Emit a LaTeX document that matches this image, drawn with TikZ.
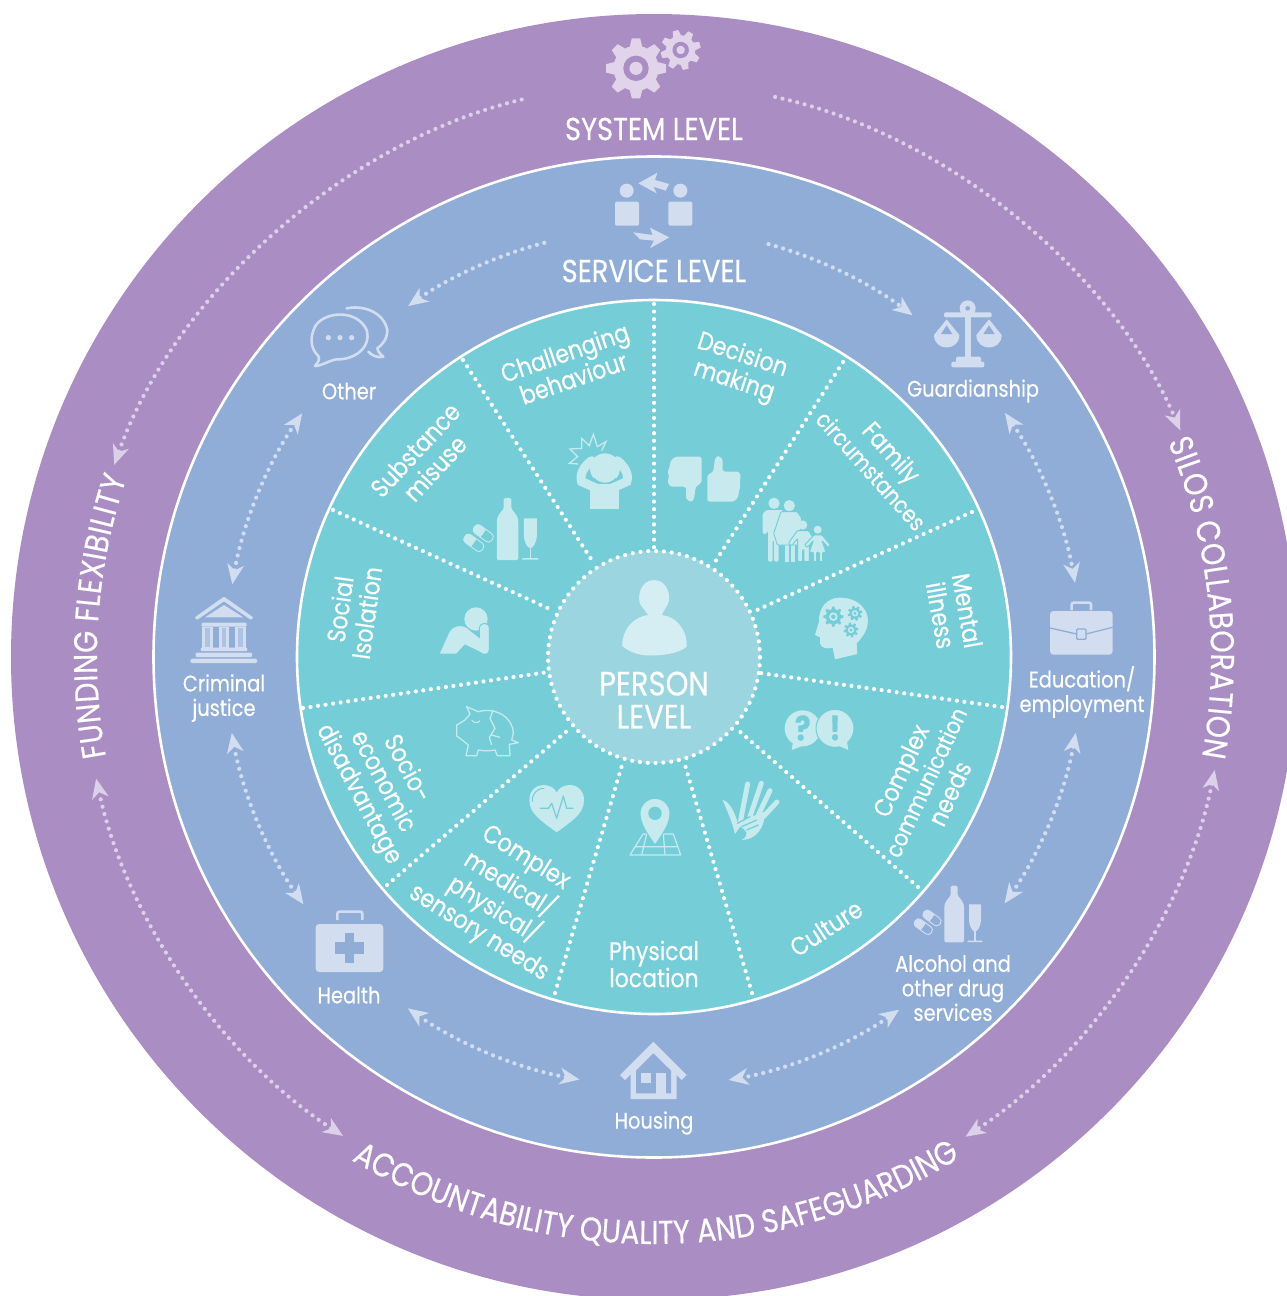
\documentclass[tikz,border=0pt]{standalone}
\usepackage{fontspec}
\usetikzlibrary{arrows.meta,decorations.text}
\newfontfamily\gothic[FakeStretch=0.86,FakeBold=0.4]{Poppins}
\definecolor{cpurple}{HTML}{A98DC3}
\definecolor{cblue}{HTML}{90ADD8}
\definecolor{cteal}{HTML}{75CDD8}
\definecolor{ccore}{HTML}{9BD6E0}
\definecolor{icoP}{HTML}{E0D3EA}
\definecolor{icoB}{HTML}{D2DDF0}
\definecolor{icoT}{HTML}{C6EAEE}
\definecolor{icoC}{HTML}{D5EEF3}
\definecolor{dotP}{HTML}{DDD0E9}
\tikzset{
 ring title/.style={font=\gothic\fontsize{31.8}{34}\selectfont,text=white,align=center,inner sep=0pt},
 core title/.style={font=\gothic\fontsize{33.8}{33}\selectfont,text=white,align=center,inner sep=0pt},
 blue label/.style={font=\gothic\fontsize{22.6}{24.5}\selectfont,text=white,align=center,inner sep=0pt},
 teal label/.style={font=\gothic\fontsize{25.6}{27}\selectfont,text=white,align=center,inner sep=0pt},
 mark glyph/.style={font=\gothic\bfseries\fontsize{34}{34}\selectfont,text=cteal,inner sep=0pt},
 spoke line/.style={draw=white,line width=4.2pt,line cap=round,dash pattern=on 0pt off 7.6pt},
 link/.style={line width=4.2pt,line cap=round,dash pattern=on 0pt off 7.6pt,
   >={Stealth[length=20pt,width=17pt,inset=6pt,round=false,line width=0pt]}},
 blue link/.style={link,draw=icoB,color=icoB},
 purple link/.style={link,draw=dotP,color=dotP},
 zoomed/.style={scale=0.33333},
}
\newcommand\curvefont{\gothic\fontsize{33}{34}\selectfont\color{white}}
\newcommand\longword[1]{{\fontsize{23.5}{27}\selectfont #1}}
\newcommand\spokeline[5]{\coordinate (#1a) at (#2,#3); \coordinate (#1b) at (#4,#5); \draw[spoke line] (#1a) -- (#1b);}
% all rings run clockwise from angle #2 to angle #3, radius #4
\newcommand\ringlink[5]{\coordinate (#1a) at ([shift={(O)}]#2:#4pt); \coordinate (#1b) at ([shift={(O)}]#3:#4pt);
 \pgfmathsetmacro\bnd{abs(#3-(#2))/2}
 \draw[#5] (#1a) to[bend left=\bnd,looseness=0.85] (#1b);}
\newcommand\gearshape[8]{\begin{scope}[shift={(#1,#2)},rotate=#6]
 \foreach \ga in {0,45,90,135}{\fill[#7,rotate=\ga] (-#5*0.7,-#3) -- (#5*0.7,-#3) -- (#5,-#4) -- (#5,#4) -- (#5*0.7,#3) -- (-#5*0.7,#3) -- (-#5,#4) -- (-#5,-#4) -- cycle;}
 \fill[#7] (0,0) circle[radius=#4 pt];
 \fill[#8] (0,0) circle[radius=#4*0.56 pt];
 \fill[#7] (0,0) circle[radius=#4*0.29 pt];
 \end{scope}}
\newcommand\pillshape[4]{\begin{scope}[shift={(#1,#2)},rotate=-36]
 \fill[#3,rounded corners=3.5pt] (-30,-13) -- (0,-13) -- (0,13) -- (-30,13) -- cycle;
 \fill[#3] (-10,-13) rectangle (0,13);
 \draw[#3,line width=0.9pt,rounded corners=3.8pt] (-30,-13) rectangle (30,13);
 \end{scope}}
\newcommand\boozeicon[5]{\begin{scope}[shift={(#1,#2)},scale=#3]
 \fill[#4,rounded corners=1.5pt] (752,467) -- (773,467) -- (773,497) .. controls (785,510) and (792,520) .. (792,536) -- (792,637) -- (733,637) -- (733,536) .. controls (733,520) and (740,510) .. (752,497) -- cycle;
 \fill[#4] (807,523) -- (843,523) -- (843,565) .. controls (843,590) and (833,602) .. (827,604) -- (823,604) .. controls (817,602) and (807,590) .. (807,565) -- cycle;
 \fill[#4] (823,600) rectangle (827,632);
 \fill[#4] (804,632) -- (846,632) -- (848,636) -- (802,636) -- cycle;
 \pillshape{696}{564}{#4}{#5}
 \pillshape{670}{590}{#4}{#5}
 \end{scope}}
\begin{document}
\begin{tikzpicture}[x=1pt,y=-1pt]
\useasboundingbox (0,0) rectangle (1287,1296);
\clip (0,0) rectangle (1287,1296);
\fill[white] (0,0) rectangle (1287,1296);
\coordinate (O) at (654,657);
% discs
\fill[cpurple] (O) circle[radius=643pt];
\fill[cblue,draw=white,line width=2.6pt] (O) circle[radius=500.5pt];
\fill[cteal,draw=white,line width=2.6pt] (O) circle[radius=357pt];
% spokes
\spokeline{s1}{654}{304}{654}{550}
\spokeline{s2}{463}{360}{593}{562}
\spokeline{s3}{333}{510}{552}{610}
\spokeline{s4}{303}{708}{548}{672}
\spokeline{s5}{387}{885}{568}{730}
\spokeline{s6}{555}{993}{622}{765}
\spokeline{s7}{752}{993}{685}{765}
\spokeline{s8}{918}{887}{738}{730}
\spokeline{s9}{1002}{707}{760}{673}
\spokeline{s10}{972}{512}{757}{610}
\spokeline{s11}{843}{362}{715}{562}
% core
\fill[ccore] (O) circle[radius=106pt];
\draw[white,line width=4.2pt,line cap=round,dash pattern=on 0pt off 7.83pt] (O) circle[radius=106pt];
% outer ring links
\ringlink{p1}{160.4}{102.7}{573}{purple link,<-}
\ringlink{p2}{77.8}{23.3}{573}{purple link,->}
\ringlink{p3}{237}{192.3}{571}{purple link,<->}
\ringlink{p4}{-11.4}{-57}{572}{purple link,<->}
% blue ring links
\ringlink{b1}{125}{104.5}{428.5}{blue link,<-}
\ringlink{b2}{74.5}{52.9}{428.5}{blue link,->}
\ringlink{b3}{170.2}{145.3}{428}{blue link,<->}
\ringlink{b4}{34.8}{10}{427.5}{blue link,<->}
\ringlink{b5}{-10.2}{-35.1}{428.5}{blue link,<->}
\ringlink{b6}{-55.2}{-80}{429.5}{blue link,<->}
\ringlink{b7}{260}{235}{429}{blue link,<->}
\ringlink{b8}{215.2}{190.2}{429}{blue link,<->}
% curved titles
\path[decorate,decoration={text along path,text align={fit to path},text={|\curvefont|SILOS COLLABORATION}}] ([shift={(O)}]22.7:557pt) arc[start angle=22.7,end angle=-10.3,radius=557pt];
\path[decorate,decoration={text along path,text align={fit to path},text={|\curvefont|FUNDING FLEXIBILITY}}] ([shift={(O)}]190.3:557pt) arc[start angle=190.3,end angle=161.3,radius=557pt];
\path[decorate,decoration={text along path,text align={fit to path},text={|\curvefont|ACCOUNTABILITY QUALITY AND SAFEGUARDING}}] ([shift={(O)}]239:587pt) arc[start angle=239,end angle=301,radius=587pt];
% titles
\node[ring title] (system) at (654,129) {SYSTEM LEVEL};
\node[ring title] (service) at (654,271) {SERVICE LEVEL};
\node[core title] (person) at (654,700) {PERSON\\LEVEL};
% blue ring labels
\node[blue label] (other) at (349,391) {Other};
\node[blue label] (guardianship) at (973,391) {Guardianship};
\node[blue label] (education) at (1082,692) {Education/\\employment};
\node[blue label] (alcohol) at (953,988) {Alcohol and\\other drug\\services};
\node[blue label] (housing) at (654,1123) {Housing};
\node[blue label] (health) at (349,995) {Health};
\node[blue label] (criminal) at (224,698) {Criminal\\justice};
% teal labels
\node[teal label,rotate=19] (challenging) at (569,365) {Challenging\\behaviour};
\node[teal label,rotate=-18] (decision) at (738,369) {Decision\\making};
\node[teal label,rotate=-48] (family) at (882,461) {Family\\\longword{circumstances}};
\node[teal label,rotate=-80] (mental) at (954,613) {Mental\\illness};
\node[teal label,rotate=65] (communication) at (925,782) {Complex\\\longword{communication}\\needs};
\node[teal label,rotate=33] (culture) at (826,928) {Culture};
\node[teal label] (location) at (654,964) {Physical\\location};
\node[teal label,rotate=-32] (medical) at (502,896) {Complex\\medical/\\physical/\\sensory needs};
\node[teal label,rotate=-62] (socio) at (382,782) {Socio-\\economic\\disadvantage};
\node[teal label,rotate=82] (isolation) at (353,611) {Social\\Isolation};
\node[teal label,rotate=47] (substance) at (425,459) {Substance\\misuse};
% --- icons ---
% gears
\begin{scope}[shift={(500,0)},zoomed]
 \gearshape{408}{205}{90}{68}{18}{0}{icoP}{cpurple}
 \gearshape{542}{150}{60}{44}{12}{15}{icoP}{cpurple}
\end{scope}
% service people
\begin{scope}[shift={(500,0)},zoomed]
 \fill[icoB] (380,572) circle[radius=21pt];
 \fill[icoB] (541,572) circle[radius=21pt];
 \fill[icoB,rounded corners=2pt] (345,605) rectangle (417,677);
 \fill[icoB,rounded corners=2pt] (505,605) rectangle (577,677);
 \fill[icoB] (415,550) -- (472,518) -- (465,540) -- (507,552) -- (497,572) -- (460,560) -- (470,580) -- cycle;
 \fill[icoB] (508,712) -- (450,683) -- (458,705) -- (400,697) -- (420,718) -- (462,722) -- (450,745) -- cycle;
\end{scope}
% speech bubbles
\begin{scope}[shift={(150,280)},zoomed]
 \draw[icoB,line width=2.6pt,line join=round] (495,258) .. controls (505,245) and (510,240) .. (505,228) .. controls (480,205) and (480,170) .. (495,140) .. controls (520,95) and (620,85) .. (650,150) .. controls (665,205) and (610,240) .. (560,238) .. controls (540,240) and (515,258) .. (495,258) -- cycle;
 \draw[icoB,line width=2.6pt,line join=round,line cap=round] (590,85) .. controls (640,75) and (700,95) .. (712,150) .. controls (712,180) and (695,195) .. (682,205) .. controls (685,220) and (695,225) .. (700,230) .. controls (680,235) and (665,225) .. (655,215);
 \fill[icoB] (535,173) circle[radius=8pt] (570,173) circle[radius=8pt] (605,173) circle[radius=8pt];
\end{scope}
% scales
\begin{scope}[shift={(880,280)},zoomed]
 \fill[icoB] (263,85) circle[radius=24pt];
 \fill[cblue] (263,85) circle[radius=7pt];
 \fill[icoB,rounded corners=1.5pt] (192,97) rectangle (335,112);
 \fill[icoB] (256,100) rectangle (272,235);
 \fill[icoB,rounded corners=1.5pt] (228,230) rectangle (303,250);
 \fill[icoB,rounded corners=2pt] (214,245) rectangle (313,262);
 \foreach \px in {200,327}{
  \fill[icoB,shift={(\px,0)}] (0,118) -- (-38,165) .. controls (-38,215) and (38,215) .. (38,165) -- cycle;
  \fill[cblue,shift={(\px,0)}] (0,136) -- (-17,162) -- (17,162) -- cycle;
 }
\end{scope}
% briefcase
\begin{scope}[shift={(880,280)},zoomed]
 \draw[icoB,line width=2.6pt,rounded corners=2pt] (575,990) -- (575,968) -- (633,968) -- (633,990);
 \fill[icoB,rounded corners=3.5pt] (510,993) rectangle (698,1124);
 \draw[cblue,line width=1.3pt] (510,1044) -- (590,1062);
 \draw[cblue,line width=1.3pt] (618,1062) -- (698,1042);
 \draw[cblue,line width=1.3pt,rounded corners=1pt] (590,1047) rectangle (618,1078);
\end{scope}
% alcohol icons
\boozeicon{700}{730}{0.33333}{icoB}{cblue}
\boozeicon{229.2}{327.5}{0.365}{icoT}{cteal}
% house
\begin{scope}[shift={(280,880)},zoomed]
 \fill[icoB] (1052,657) -- (1052,575) -- (1120,505) -- (1190,575) -- (1190,657) -- cycle;
 \fill[icoB] (1120,485) -- (1220,585) -- (1205,600) -- (1120,515) -- (1035,600) -- (1020,585) -- cycle;
 \fill[cblue] (1068,640) -- (1068,572) -- (1120,520) -- (1173,572) -- (1173,640) -- cycle;
 \fill[icoB] (1083,580) rectangle (1113,610);
 \fill[icoB] (1128,580) rectangle (1157,642);
\end{scope}
% first aid
\begin{scope}[shift={(300,650)},zoomed]
 \draw[icoB,line width=2.6pt,rounded corners=2pt] (112,810) -- (112,785) -- (187,785) -- (187,810);
 \fill[icoB,rounded corners=3.5pt] (47,822) rectangle (250,966);
 \fill[cblue] (135,850) rectangle (163,938);
 \fill[cblue] (105,876) rectangle (193,911);
\end{scope}
% courthouse
\begin{scope}[shift={(150,280)},zoomed]
 \fill[icoB,rounded corners=1pt] (222,950) -- (310,1012) -- (303,1020) -- (222,964) -- (141,1020) -- (134,1012) -- cycle;
 \fill[icoB] (222,975) -- (280,1012) -- (165,1012) -- cycle;
 \fill[icoB,rounded corners=1pt] (155,1028) rectangle (290,1040);
 \foreach \cx in {172,222,272}{
  \fill[icoB] (\cx-16,1040) rectangle (\cx+16,1103);
  \fill[cblue!55!icoB] (\cx-7,1043) rectangle (\cx+7,1100);
 }
 \fill[icoB,rounded corners=1pt] (152,1103) rectangle (292,1113);
 \fill[icoB,rounded corners=1pt] (137,1118) rectangle (306,1131);
 \fill[icoB,rounded corners=1.5pt] (121,1136) rectangle (322,1149);
\end{scope}
% person
\begin{scope}[shift={(580,570)},zoomed]
 \fill[icoC] (222,30) .. controls (265,30) and (275,85) .. (262,105) -- (245,135) .. controls (290,140) and (322,180) .. (320,230) .. controls (300,250) and (240,258) .. (210,256) .. controls (180,258) and (145,245) .. (127,228) .. controls (125,180) and (160,140) .. (205,135) -- (182,105) .. controls (170,85) and (180,30) .. (222,30) -- cycle;
\end{scope}
% head in hands
\begin{scope}[shift={(300,300)},zoomed]
 \draw[icoT,line width=1.3pt,line join=miter] (835,492) -- (808,490) -- (833,470) -- (810,447) -- (845,445) -- (845,415) -- (868,437) -- (880,403) -- (892,440) -- (918,425) -- (905,452);
 \fill[icoT] (915,505) circle[radius=45pt];
 \fill[icoT] (870,565) -- (958,565) -- (958,627) -- (870,627) -- cycle;
 \draw[icoT,line width=9pt,line cap=round] (875,482) .. controls (850,500) and (838,525) .. (845,545) -- (890,565) -- (935,565) -- (980,545) .. controls (988,525) and (975,500) .. (952,482);
 \draw[cteal,line width=1.2pt] (882,535) .. controls (900,555) and (930,555) .. (948,535);
\end{scope}
% thumbs
\begin{scope}[shift={(650,300)},zoomed]
 \fill[icoT,rounded corners=2.5pt] (172,605) -- (172,525) -- (190,515) -- (195,475) .. controls (205,465) and (218,475) .. (218,490) -- (218,515) -- (268,515) -- (273,530) -- (268,545) -- (272,560) -- (266,575) -- (266,590) -- (252,605) -- cycle;
 \fill[icoT,rounded corners=2.5pt] (155,470) -- (155,548) -- (137,560) -- (132,598) .. controls (122,608) and (108,598) .. (108,585) -- (108,560) -- (60,560) -- (52,545) -- (58,530) -- (52,515) -- (60,500) -- (60,485) -- (75,470) -- cycle;
\end{scope}
% family
\begin{scope}[shift={(650,300)},zoomed,every path/.append style={line width=0.9pt}]
 \fill[icoT] (372,610) circle[radius=17pt];
 \fill[icoT,rounded corners=1.5pt] (338,702) -- (338,640) -- (350,630) -- (400,630) -- (400,710) -- (386,710) -- (386,785) -- (372,785) -- (372,720) -- (368,720) -- (368,785) -- (354,785) -- (354,690) -- (350,702) -- cycle;
 \fill[icoT] (418,617) circle[radius=17pt];
 \fill[icoT] (405,730) rectangle (418,785);
 \fill[icoT] (423,730) rectangle (436,785);
 \filldraw[fill=icoT,draw=cteal,rounded corners=1pt] (393,635) -- (442,635) -- (455,655) -- (446,735) -- (382,735) -- (371,700) -- cycle;
 \fill[icoT] (458,675) circle[radius=14pt];
 \filldraw[fill=icoT,draw=cteal,rounded corners=1pt] (415,730) -- (442,692) -- (476,692) -- (500,730) -- (490,737) -- (478,715) -- (478,785) -- (462,785) -- (462,750) -- (458,750) -- (458,785) -- (443,785) -- (443,715) -- (425,737) -- cycle;
 \fill[icoT] (503,689) circle[radius=12pt];
 \filldraw[fill=icoT,draw=cteal,rounded corners=0.7pt] (464,735) -- (492,705) -- (516,705) -- (541,735) -- (534,742) -- (516,722) -- (528,757) -- (518,757) -- (518,785) -- (508,785) -- (508,757) -- (500,757) -- (500,785) -- (490,785) -- (490,757) -- (478,757) -- (490,722) -- (472,742) -- cycle;
\end{scope}
% head with gears
\begin{scope}[shift={(650,300)},zoomed]
 \fill[icoT] (555,1078) -- (622,1062) -- (620,1030) .. controls (650,1000) and (660,970) .. (650,940) .. controls (635,905) and (600,893) .. (570,893) .. controls (530,893) and (505,925) .. (507,965) -- (495,1005) -- (510,1012) -- (510,1030) .. controls (512,1045) and (535,1048) .. (548,1043) -- cycle;
 \gearshape{550}{950}{30}{23}{5}{0}{cteal}{icoT}
 \gearshape{615}{940}{22}{17}{4}{15}{cteal}{icoT}
 \gearshape{603}{990}{22}{17}{4}{10}{cteal}{icoT}
\end{scope}
% question and exclamation bubbles
\begin{scope}[shift={(650,650)},zoomed]
 \fill[icoT] (458,235) circle[radius=54pt];
 \fill[icoT] (425,300) -- (430,270) -- (465,285) -- cycle;
 \filldraw[fill=icoT,draw=cteal,line width=1pt] (555,235) circle[radius=57pt];
 \fill[icoT] (595,300) -- (590,270) -- (560,285) -- cycle;
\end{scope}
\node[mark glyph] (question) at (802.7,728) {?};
\node[mark glyph] (exclaim) at (835,728) {!};
% hands
\begin{scope}[shift={(650,650)},zoomed]
 \draw[icoT,line width=5pt,line cap=round] (272,510) -- (293,402);
 \draw[icoT,line width=5pt,line cap=round] (300,500) -- (334,400);
 \draw[icoT,line width=5pt,line cap=round] (325,495) -- (360,422);
 \draw[icoT,line width=5pt,line cap=round] (340,500) -- (381,456);
 \fill[icoT] (218,450) .. controls (240,455) and (255,490) .. (262,515) -- (345,485) .. controls (345,530) and (320,570) .. (275,570) .. controls (300,555) and (290,540) .. (270,530) -- (255,552) .. controls (245,510) and (230,480) .. (218,450) -- cycle;
 \draw[cteal,line width=1.2pt,line cap=round] (262,520) -- (300,500) (275,530) -- (320,510) (290,540) -- (325,525);
\end{scope}
% map pin
\begin{scope}[shift={(650,650)},zoomed]
 \draw[icoT,line width=1.2pt,line join=round] (-21,552) -- (70,552) -- (92,615) -- (-60,615) -- cycle;
 \draw[icoT,line width=1.2pt] (-45,590) -- (82,590) (-25,615) -- (-10,552) (45,615) -- (40,552);
 \filldraw[fill=icoT,draw=cteal,line width=1pt] (15,585) .. controls (-10,550) and (-30,520) .. (-30,490) .. controls (-30,465) and (-10,445) .. (15,445) .. controls (40,445) and (60,465) .. (60,490) .. controls (60,520) and (40,550) .. (15,585) -- cycle;
 \fill[cteal] (15,490) circle[radius=20pt];
\end{scope}
% heart
\begin{scope}[shift={(300,650)},zoomed]
 \fill[icoT] (770,547) .. controls (720,510) and (688,490) .. (688,450) .. controls (688,420) and (710,405) .. (730,405) .. controls (750,405) and (765,415) .. (770,428) .. controls (775,415) and (790,405) .. (810,405) .. controls (835,405) and (852,425) .. (852,450) .. controls (852,490) and (820,510) .. (770,547) -- cycle;
 \draw[cteal,line width=1pt] (697,455) .. controls (695,430) and (715,413) .. (733,415);
 \draw[cteal,line width=1.2pt,line join=round] (720,475) -- (745,475) -- (755,460) -- (770,505) -- (790,438) -- (800,475) -- (820,475);
\end{scope}
% piggy bank
\begin{scope}[shift={(300,650)},zoomed]
 \draw[icoT,line width=1.3pt,line join=round] (500,170) -- (535,185) .. controls (590,170) and (640,205) .. (640,250) -- (635,270) -- (655,278) -- (628,283) -- (630,317) -- (592,317) -- (585,300) .. controls (570,303) and (550,303) .. (535,300) -- (530,317) -- (498,317) -- (505,285) -- (480,265) -- (470,258) -- (470,225) -- (495,210) -- (510,192) -- cycle;
 \draw[icoT,line width=1.3pt,line join=round] (580,180) -- (570,205) -- (585,235) -- (568,262) -- (575,285) (575,255) -- (600,262);
 \draw[icoT,line width=1.1pt] (515,210) .. controls (520,220) and (535,220) .. (540,212);
\end{scope}
% crouching figure
\begin{scope}[shift={(425,595)},zoomed]
 \fill[icoT] (153,72) circle[radius=35pt];
 \filldraw[fill=icoT,draw=cteal,line width=1pt] (42,177) -- (72,110) .. controls (85,88) and (118,85) .. (135,105) -- (163,127) -- (163,100) .. controls (165,80) and (193,80) .. (193,100) -- (193,165) .. controls (193,180) and (175,182) .. (165,172) -- (120,150) -- (95,177) -- cycle;
\end{scope}
\end{tikzpicture}
\end{document}
